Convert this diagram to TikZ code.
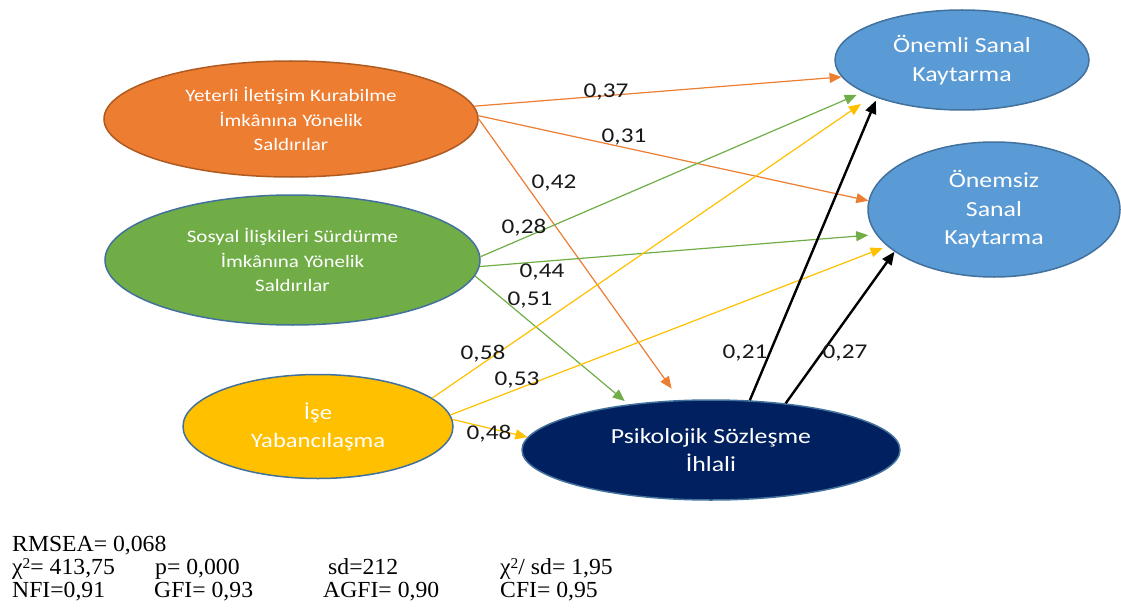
\documentclass[tikz,border=0pt]{standalone}
\usepackage{fontspec}
\usetikzlibrary{arrows.meta,shapes.geometric}
\setmainfont{Liberation Serif}
\newfontfamily\pathfont{Carlito}[FakeStretch=1.2]
\newfontfamily\statfont{Liberation Serif}[FakeStretch=1.03]
% low superscript two for the chi-square symbol
\newcommand{\sqtwo}{\raisebox{6pt}{\fontsize{15}{15}\selectfont 2}}

\definecolor{cOrange}{HTML}{ED7D31}
\definecolor{cOrangeEdge}{HTML}{AE5A21}
\definecolor{cGreen}{HTML}{70AD47}
\definecolor{cYellow}{HTML}{FFC000}
\definecolor{cNavy}{HTML}{002060}
\definecolor{cBlue}{HTML}{5B9BD5}
\definecolor{cEdge}{HTML}{41719C}

\begin{document}
\begin{tikzpicture}[x=1pt,y=-1pt,
  construct/.style={ellipse, draw=cEdge, line width=1.5pt, inner sep=0pt,
    text=white, align=center},
  smalltext/.style={font=\pathfont\fontsize{17.5}{24.5}\selectfont},
  bigtext/.style={font=\pathfont\fontsize{21.5}{28.5}\selectfont},
  midtext/.style={font=\pathfont\fontsize{20.5}{28}\selectfont},
  effect/.style={line width=1.2pt, -{Triangle[length=12pt,width=10pt]}},
  strong/.style={line width=2.4pt, draw=black, -{Triangle[length=13pt,width=11pt]}},
  coef/.style={font=\pathfont\fontsize{21}{24}\selectfont, text=black!90,
    inner sep=0pt, anchor=base},
  fitstat/.style={font=\statfont\fontsize{23}{26}\selectfont, inner sep=0pt, anchor=base west}]

\useasboundingbox (0,0) rectangle (1121,615);

% latent constructs
\node[construct, smalltext, fill=cOrange, draw=cOrangeEdge, minimum width=374pt, minimum height=116pt]
  (yet) at (291,119) {Yeterli İletişim Kurabilme\\İmkânına Yönelik\\Saldırılar};
\node[construct, smalltext, fill=cGreen, minimum width=375pt, minimum height=130pt]
  (sos) at (292.5,260) {Sosyal İlişkileri Sürdürme\\İmkânına Yönelik\\Saldırılar};
\node[construct, midtext, fill=cYellow, minimum width=270pt, minimum height=104pt]
  (ise) at (318,426.5) {İşe\\Yabancılaşma};
\node[construct, bigtext, fill=cNavy, minimum width=378pt, minimum height=100pt]
  (psk) at (711,450) {Psikolojik Sözleşme\\İhlali};
\node[construct, bigtext, fill=cBlue, minimum width=254pt, minimum height=100pt]
  (onm) at (962,60) {Önemli Sanal\\Kaytarma};
\node[construct, bigtext, fill=cBlue, minimum width=252pt, minimum height=135pt]
  (ons) at (994,209.5) {Önemsiz\\Sanal\\Kaytarma};

% structural paths
\draw[effect, cOrange] (yet.4.4) -- (onm.188.4);
\draw[effect, cOrange] (yet.1.9) -- (ons.176.6);
\draw[effect, cOrange, shorten >=14pt] (yet.-0.3) -- (psk.122.6);
\draw[effect, cGreen, shorten >=7pt] (sos.1.5) -- (onm.198.6);
\draw[effect, cGreen, shorten >=8pt] (sos.-2.1) -- (ons.192.4);
\draw[effect, cGreen, shorten >=5pt] (sos.-5.2) -- (psk.151.4);
\draw[effect, cYellow, shorten >=14pt] (ise.14.5) -- (onm.202.8);
\draw[effect, cYellow, shorten >=5pt] (ise.5.3) -- (ons.199.1);
\draw[effect, cYellow] (ise.3.2) -- (psk.176.9);
\draw[strong, shorten >=3pt] (psk.52) -- (onm.204.7);
\draw[strong] (psk.32.3) -- (ons.203.3);

% path coefficients
\node[coef] (c37) at (606,98) {0,37};
\node[coef] (c31) at (624,142.5) {0,31};
\node[coef] (c42) at (554,188) {0,42};
\node[coef] (c28) at (524,233) {0,28};
\node[coef] (c44) at (542,277) {0,44};
\node[coef] (c51) at (530,305) {0,51};
\node[coef] (c58) at (483,359) {0,58};
\node[coef] (c53) at (517,385) {0,53};
\node[coef] (c48) at (489,439) {0,48};
\node[coef] (c21) at (745,358) {0,21};
\node[coef] (c27) at (845,358) {0,27};

% goodness-of-fit statistics
\node[fitstat] (rmsea) at (12,551) {RMSEA= 0,068};
\node[fitstat] (chi) at (12,574) {χ\sqtwo= 413,75};
\node[fitstat] (pval) at (155,574) {p= 0,000};
\node[fitstat] (sd) at (328,574) {sd=212};
\node[fitstat] (chisd) at (500,574) {χ\sqtwo/ sd= 1,95};
\node[fitstat] (nfi) at (12,597) {NFI=0,91};
\node[fitstat] (gfi) at (154,597) {GFI= 0,93};
\node[fitstat] (agfi) at (323,597) {AGFI= 0,90};
\node[fitstat] (cfi) at (500,597) {CFI= 0,95};
\end{tikzpicture}
\end{document}
